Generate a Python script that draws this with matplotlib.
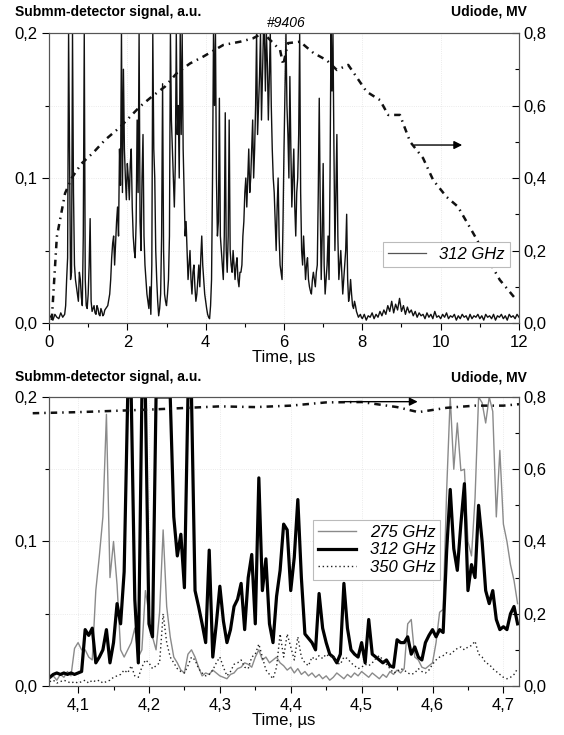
import numpy as np
import matplotlib
matplotlib.use("Agg")
import matplotlib.pyplot as plt
from matplotlib.ticker import FuncFormatter, MultipleLocator

plt.rcParams['font.family'] = ['Liberation Sans', 'DejaVu Sans']

# ---- top panel: shot #9406, full pulse ----
t_top = np.linspace(0, 12, 241)  # 0.05 us step
sig312_top = [
    0.003, 0.005, 0.002, 0.006, 0.004, 0.003, 0.007, 0.004, 0.006, 0.03,
    0.2, 0.03, 0.2, 0.04, 0.025, 0.015, 0.03, 0.012, 0.2, 0.012,
    0.02, 0.072, 0.008, 0.012, 0.006, 0.01, 0.005, 0.008, 0.006, 0.01,
    0.012, 0.02, 0.045, 0.06, 0.055, 0.08, 0.12, 0.2, 0.175, 0.1,
    0.11, 0.085, 0.12, 0.06, 0.045, 0.14, 0.2, 0.05, 0.13, 0.04,
    0.02, 0.01, 0.006, 0.2, 0.1, 0.03, 0.005, 0.02, 0.165, 0.02,
    0.012, 0.03, 0.2, 0.12, 0.08, 0.2, 0.15, 0.2, 0.2, 0.09,
    0.07, 0.03, 0.05, 0.02, 0.04, 0.015, 0.03, 0.025, 0.06, 0.03,
    0.015, 0.006, 0.003, 0.03, 0.2, 0.2, 0.06, 0.155, 0.05, 0.03,
    0.145, 0.035, 0.14, 0.04, 0.05, 0.03, 0.045, 0.025, 0.035, 0.06,
    0.09, 0.08, 0.12, 0.1, 0.14, 0.12, 0.2, 0.15, 0.2, 0.17,
    0.2, 0.2, 0.14, 0.2, 0.12, 0.09, 0.05, 0.1, 0.04, 0.03,
    0.12, 0.2, 0.13, 0.17, 0.08, 0.12, 0.06, 0.1, 0.2, 0.05,
    0.06, 0.03, 0.045, 0.025, 0.02, 0.035, 0.025, 0.04, 0.155, 0.03,
    0.11, 0.02, 0.04, 0.03, 0.2, 0.2, 0.05, 0.13, 0.03, 0.05,
    0.02, 0.04, 0.075, 0.015, 0.03, 0.012, 0.015, 0.008, 0.004, 0.006,
    0.003, 0.006, 0.002, 0.005, 0.004, 0.007, 0.003, 0.006, 0.004, 0.008,
    0.005, 0.009, 0.006, 0.012, 0.008, 0.015, 0.007, 0.013, 0.009, 0.017,
    0.008, 0.012, 0.006, 0.011, 0.007, 0.009, 0.005, 0.008, 0.004, 0.007,
    0.005, 0.006, 0.003, 0.007, 0.004, 0.006, 0.003, 0.008, 0.004, 0.005,
    0.003, 0.006, 0.004, 0.007, 0.003, 0.005, 0.004, 0.006, 0.002, 0.005,
    0.003, 0.006, 0.004, 0.005, 0.002, 0.006, 0.003, 0.005, 0.004, 0.006,
    0.003, 0.005, 0.002, 0.006, 0.004, 0.005, 0.003, 0.006, 0.002, 0.005,
    0.004, 0.006, 0.003, 0.005, 0.002, 0.006, 0.004, 0.005, 0.003, 0.006,
    0.004,
]
# extra samples in the dense part, at t = 0.425, 0.475, ... 7.975 us
t_top_mid = np.linspace(0.425, 7.975, 152)
sig312_top_mid = [
    0.012, 0.045, 0.11, 0.035, 0.09, 0.03, 0.02, 0.035, 0.018, 0.06,
    0.03, 0.01, 0.04, 0.015, 0.01, 0.007, 0.012, 0.006, 0.01, 0.005,
    0.009, 0.011, 0.016, 0.03, 0.055, 0.04, 0.07, 0.06, 0.095, 0.09,
    0.12, 0.085, 0.1, 0.11, 0.08, 0.05, 0.07, 0.09, 0.07, 0.1,
    0.06, 0.03, 0.015, 0.025, 0.04, 0.12, 0.05, 0.015, 0.01, 0.06,
    0.05, 0.015, 0.02, 0.06, 0.14, 0.1, 0.11, 0.13, 0.1, 0.13,
    0.12, 0.06, 0.05, 0.04, 0.03, 0.035, 0.025, 0.02, 0.04, 0.045,
    0.04, 0.02, 0.01, 0.004, 0.012, 0.1, 0.15, 0.1, 0.07, 0.06,
    0.04, 0.06, 0.05, 0.06, 0.05, 0.035, 0.04, 0.04, 0.03, 0.035,
    0.04, 0.07, 0.1, 0.1, 0.09, 0.12, 0.1, 0.15, 0.13, 0.17,
    0.14, 0.2, 0.16, 0.18, 0.17, 0.15, 0.1, 0.07, 0.08, 0.06,
    0.035, 0.07, 0.16, 0.15, 0.1, 0.12, 0.1, 0.08, 0.09, 0.13,
    0.09, 0.04, 0.045, 0.04, 0.03, 0.022, 0.03, 0.03, 0.035, 0.09,
    0.08, 0.06, 0.04, 0.03, 0.06, 0.1, 0.16, 0.12, 0.09, 0.06,
    0.04, 0.035, 0.03, 0.05, 0.03, 0.02, 0.02, 0.01, 0.012, 0.006,
    0.005, 0.004,
]

ud_top_t = [0.07, 0.2, 0.41, 0.58, 0.83, 1.13, 1.43, 1.81, 2.32, 2.62, 2.96,
            3.26, 3.6, 3.94, 4.45, 4.88, 5.2, 5.47, 5.9, 5.98, 6.1, 6.41,
            6.75, 7.09, 7.35, 7.64, 8.11, 8.45, 8.66, 8.96, 9.22, 9.55,
            9.81, 10.15, 10.44, 10.83, 11.17, 11.51, 11.94]
ud_top = [0.008, 0.238, 0.358, 0.40, 0.44, 0.47, 0.505, 0.54, 0.597, 0.624,
          0.652, 0.689, 0.716, 0.735, 0.767, 0.776, 0.785, 0.8, 0.753, 0.712,
          0.772, 0.776, 0.745, 0.725, 0.698, 0.712, 0.638, 0.615, 0.574,
          0.574, 0.50, 0.455, 0.394, 0.348, 0.321, 0.248, 0.183, 0.119, 0.063]

# ---- bottom panel: zoom 4.06 - 4.72 us ----
t_bot = np.linspace(4.06, 4.72, 133)  # 0.005 us step
sig275 = [
    0.005, 0.007, 0.004, 0.008, 0.006, 0.01, 0.007, 0.026, 0.03, 0.025,
    0.025, 0.02, 0.018, 0.066, 0.09, 0.117, 0.188, 0.075, 0.1, 0.07,
    0.025, 0.02, 0.025, 0.03, 0.04, 0.02, 0.025, 0.066, 0.05, 0.034,
    0.025, 0.051, 0.108, 0.055, 0.034, 0.02, 0.016, 0.011, 0.009, 0.022,
    0.025, 0.02, 0.013, 0.007, 0.009, 0.008, 0.011, 0.009, 0.007, 0.006,
    0.005, 0.008, 0.009, 0.012, 0.013, 0.016, 0.015, 0.013, 0.02, 0.025,
    0.018, 0.02, 0.016, 0.018, 0.02, 0.016, 0.014, 0.011, 0.013, 0.009,
    0.012, 0.008, 0.01, 0.007, 0.009, 0.006, 0.008, 0.005, 0.007, 0.004,
    0.006, 0.009, 0.007, 0.005, 0.008, 0.006, 0.009, 0.007, 0.01, 0.008,
    0.006, 0.009, 0.007, 0.005, 0.008, 0.006, 0.01, 0.008, 0.011, 0.009,
    0.012, 0.043, 0.046, 0.02, 0.018, 0.013, 0.012, 0.014, 0.016, 0.03,
    0.051, 0.053, 0.136, 0.2, 0.15, 0.182, 0.149, 0.15, 0.1, 0.09,
    0.13, 0.2, 0.196, 0.182, 0.2, 0.19, 0.117, 0.163, 0.112, 0.1,
    0.084, 0.073, 0.057,
]
sig312 = [
    0.006, 0.008, 0.009, 0.008, 0.009, 0.008, 0.009, 0.008, 0.009, 0.01,
    0.039, 0.035, 0.04, 0.016, 0.02, 0.025, 0.039, 0.016, 0.03, 0.057,
    0.043, 0.079, 0.2, 0.2, 0.06, 0.016, 0.2, 0.2, 0.043, 0.034,
    0.2, 0.2, 0.2, 0.2, 0.2, 0.117, 0.09, 0.105, 0.068, 0.2,
    0.2, 0.066, 0.055, 0.043, 0.03, 0.094, 0.02, 0.043, 0.069, 0.045,
    0.03, 0.039, 0.055, 0.06, 0.071, 0.039, 0.075, 0.091, 0.043, 0.144,
    0.066, 0.088, 0.043, 0.03, 0.062, 0.08, 0.112, 0.108, 0.066, 0.089,
    0.129, 0.075, 0.036, 0.033, 0.03, 0.025, 0.064, 0.04, 0.03, 0.022,
    0.02, 0.016, 0.022, 0.071, 0.04, 0.025, 0.022, 0.02, 0.03, 0.016,
    0.046, 0.022, 0.02, 0.018, 0.016, 0.018, 0.014, 0.013, 0.032, 0.03,
    0.03, 0.034, 0.022, 0.027, 0.02, 0.018, 0.03, 0.035, 0.039, 0.034,
    0.039, 0.037, 0.094, 0.136, 0.095, 0.08, 0.112, 0.14, 0.066, 0.084,
    0.075, 0.125, 0.1, 0.066, 0.057, 0.066, 0.046, 0.039, 0.041, 0.039,
    0.05, 0.055, 0.043,
]
sig350 = [
    0.003, 0.004, 0.002, 0.003, 0.004, 0.003, 0.002, 0.003, 0.002, 0.003,
    0.004, 0.002, 0.004, 0.003, 0.004, 0.002, 0.003, 0.004, 0.006, 0.007,
    0.008, 0.011, 0.009, 0.014, 0.007, 0.006, 0.013, 0.018, 0.016, 0.012,
    0.014, 0.016, 0.05, 0.03, 0.02, 0.016, 0.012, 0.01, 0.009, 0.014,
    0.02, 0.018, 0.012, 0.009, 0.007, 0.008, 0.011, 0.016, 0.02, 0.013,
    0.007, 0.01, 0.015, 0.016, 0.018, 0.013, 0.012, 0.02, 0.022, 0.029,
    0.02, 0.011, 0.008, 0.005, 0.013, 0.036, 0.02, 0.036, 0.027, 0.018,
    0.034, 0.02, 0.016, 0.014, 0.02, 0.018, 0.021, 0.019, 0.022, 0.02,
    0.021, 0.016, 0.015, 0.02, 0.019, 0.016, 0.014, 0.012, 0.013, 0.015,
    0.014, 0.016, 0.019, 0.021, 0.018, 0.015, 0.012, 0.009, 0.01, 0.012,
    0.011, 0.009, 0.008, 0.009, 0.012, 0.01, 0.009, 0.011, 0.015, 0.018,
    0.02, 0.021, 0.023, 0.022, 0.024, 0.026, 0.027, 0.025, 0.027, 0.028,
    0.031, 0.022, 0.02, 0.016, 0.015, 0.012, 0.01, 0.008, 0.006, 0.005,
    0.006, 0.008, 0.012,
]
ud_bot_t = [4.036, 4.10, 4.20, 4.30, 4.35, 4.40, 4.45, 4.50, 4.55, 4.58,
            4.62, 4.66, 4.70, 4.722]
ud_bot = [0.755, 0.758, 0.765, 0.774, 0.772, 0.776, 0.785, 0.786, 0.772,
          0.758, 0.77, 0.776, 0.776, 0.78]

comma = FuncFormatter(lambda v, p: ('%.1f' % v).replace('.', ','))
udash = (0, (2.6, 2.0, 0.6, 2.0))
grid_kw = dict(color='#e4e4e4', lw=0.6, ls=':')

fig = plt.figure(figsize=(5.64, 7.35), dpi=100)


def style_axes(ax, axr):
    ax.set_ylim(0, 0.2)
    axr.set_ylim(0, 0.8)
    ax.set_yticks([0, 0.1, 0.2])
    ax.yaxis.set_minor_locator(MultipleLocator(0.05))
    axr.set_yticks([0, 0.2, 0.4, 0.6, 0.8])
    axr.yaxis.set_minor_locator(MultipleLocator(0.1))
    ax.yaxis.set_major_formatter(comma)
    axr.yaxis.set_major_formatter(comma)
    ax.tick_params(axis='both', which='major', direction='out', length=5,
                   labelsize=12, width=0.8)
    ax.tick_params(axis='both', which='minor', direction='out', length=3,
                   width=0.8)
    axr.tick_params(which='major', direction='in', length=5, labelsize=12,
                    width=0.8)
    axr.tick_params(which='minor', direction='in', length=3, width=0.8)
    ax.grid(True, which='both', axis='y', **grid_kw)
    ax.grid(True, which='major', axis='x', **grid_kw)
    for s in ax.spines.values():
        s.set_color('#555555')
    for s in axr.spines.values():
        s.set_color('#555555')
    ax.set_xlabel('Time, µs', fontsize=12, labelpad=0)


def legend_on(axr, handles, **kw):
    leg = axr.legend(handles=handles, borderaxespad=0, fancybox=False,
                     handlelength=2.3, prop=dict(size=12, style='italic'),
                     borderpad=0.3, framealpha=1, **kw)
    leg.get_frame().set_edgecolor('#bbbbbb')
    leg.get_frame().set_linewidth(0.8)
    return leg


# top
ax1 = fig.add_axes([0.0869, 0.5605, 0.8333, 0.3946])
ax1r = ax1.twinx()
tt = np.concatenate([t_top, t_top_mid])
ss = np.concatenate([sig312_top, sig312_top_mid])
order = np.argsort(tt)
ax1.plot(tt[order], ss[order], color='#111111', lw=1.0, label='312 GHz')
ax1r.plot(ud_top_t, ud_top, color='#111111', lw=1.8, ls=udash)
ax1.set_xlim(0, 12)
ax1.set_xticks(range(0, 13, 2))
ax1.xaxis.set_minor_locator(MultipleLocator(1))
style_axes(ax1, ax1r)
ax1r.annotate('', xy=(10.62, 0.491), xytext=(9.26, 0.491),
              arrowprops=dict(arrowstyle='-|>', color='black', lw=1,
                              mutation_scale=12))
h1 = plt.Line2D([], [], color='#555555', lw=0.9, label='312 GHz')
legend_on(ax1r, [h1], loc='lower right', bbox_to_anchor=(0.981, 0.193))

# bottom
ax2 = fig.add_axes([0.0869, 0.0667, 0.8333, 0.3932])
ax2r = ax2.twinx()
ax2.plot(t_bot, sig275, color='#8a8a8a', lw=1.0, label='275 GHz')
ax2.plot(t_bot, sig312, color='black', lw=2.3, label='312 GHz')
ax2.plot(t_bot, sig350, color='#222222', lw=1.0, ls=(0, (1, 2)),
         label='350 GHz')
ax2r.plot(ud_bot_t, ud_bot, color='#111111', lw=1.8, ls=udash, clip_on=False)
ax2.set_xlim(4.059, 4.722)
ax2.set_xticks(np.arange(4.1, 4.71, 0.1))
ax2.xaxis.set_minor_locator(MultipleLocator(0.05))
style_axes(ax2, ax2r)
ax2.xaxis.set_major_formatter(comma)
ax2r.annotate('', xy=(4.583, 0.787), xytext=(4.472, 0.787),
              arrowprops=dict(arrowstyle='-|>', color='black', lw=1,
                              mutation_scale=12))
legend_on(ax2r, ax2.get_lines(), loc='lower left',
          bbox_to_anchor=(0.562, 0.367), labelspacing=0.15)

# header texts
for ytxt in (12, 377):
    fig.text(15 / 564, 1 - ytxt / 735, 'Submm-detector signal, a.u.',
             fontsize=10, weight='bold', va='center', ha='left')
    fig.text(527 / 564, 1 - ytxt / 735, 'Udiode, MV', fontsize=10,
             weight='bold', va='center', ha='right')
fig.text(286 / 564, 1 - 23 / 735, '#9406', fontsize=10, style='italic',
         ha='center', va='center')

fig.savefig('out.png', dpi=100)
